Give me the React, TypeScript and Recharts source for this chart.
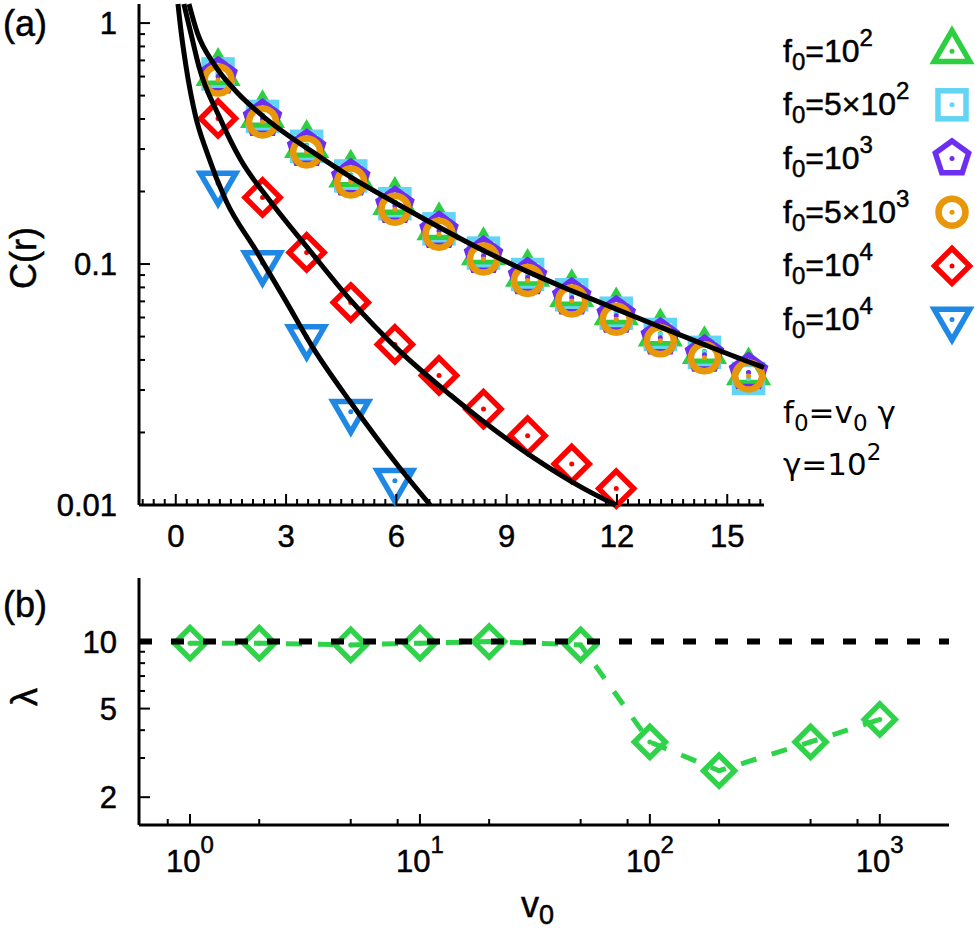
import React from "react";
import { ComposedChart, Line, Scatter, XAxis, YAxis, ReferenceLine } from "recharts";

const FONT = "'Liberation Sans', Arial, Helvetica, sans-serif";
const FONT_NOTE = "'DejaVu Sans', sans-serif";

// ---- panel (a): C(r) vs r ----
const R_PTS = [1.15, 2.36, 3.56, 4.76, 5.96, 7.16, 8.37, 9.57, 10.77, 11.98, 13.18, 14.38, 15.58];
const C_F1E2 = [0.62, 0.415, 0.312, 0.235, 0.181, 0.142, 0.112, 0.091, 0.075, 0.063, 0.0515, 0.0435, 0.0355];
const C_F5E2 = [0.615, 0.41, 0.308, 0.232, 0.178, 0.14, 0.111, 0.0905, 0.0745, 0.0625, 0.051, 0.043, 0.0335];
const C_F1E3 = [0.6, 0.4, 0.3, 0.226, 0.174, 0.137, 0.108, 0.088, 0.0725, 0.061, 0.0495, 0.042, 0.0355];
const C_F5E3 = [0.58, 0.389, 0.292, 0.219, 0.169, 0.133, 0.105, 0.0855, 0.0703, 0.059, 0.048, 0.0408, 0.0343];
const C_F1E4 = [0.402, 0.189, 0.1117, 0.0692, 0.0464, 0.0345, 0.025, 0.0194, 0.0148, 0.0117];
const C_F1E4B = [0.216, 0.101, 0.0498, 0.0244, 0.0126];

// fitted curves
const FIT1_R = [0.36, 0.59, 1.04, 1.65, 2.36, 3.82, 4.73, 6.1, 8.37, 9.57, 10.77, 11.98, 13.18, 14.38, 15.58, 16];
const FIT1_C = [1.2, 0.908, 0.676, 0.519, 0.412, 0.285, 0.231, 0.175, 0.1138, 0.093, 0.0775, 0.065, 0.0548, 0.0463, 0.0393, 0.0372];
const FIT2_R = [0.22, 0.41, 0.63, 1.18, 1.77, 2.55, 3.64, 4.73, 6.1, 7.47, 8.37, 9.74, 11.1, 11.97];
const FIT2_C = [1.2, 0.908, 0.66, 0.41, 0.27, 0.184, 0.114, 0.0715, 0.0434, 0.0286, 0.0222, 0.0157, 0.0117, 0.01];
const FIT3_R = [0.06, 0.15, 0.28, 0.54, 0.85, 1.36, 2.18, 3.0, 3.73, 4.73, 6.1, 6.92];
const FIT3_C = [1.2, 0.908, 0.66, 0.41, 0.29, 0.184, 0.114, 0.07, 0.045, 0.027, 0.0142, 0.01];

// ---- panel (b): lambda vs v0 ----
const V0 = [1, 2, 5, 10, 20, 50, 100, 200, 500, 1000];
const LAMBDA = [9.84, 9.84, 9.66, 9.84, 10.0, 9.66, 3.54, 2.63, 3.54, 4.47];
const LAMBDA_REF = 10;

// ticks
const A_X_MAJOR = [0, 3, 6, 9, 12, 15];
const A_X_TICKS = Array.from({ length: 57 }, (_, i) => Math.round((i - 3) * 3) / 10);
const A_Y_MAJOR = [0.01, 0.1, 1];
const A_Y_TICKS = [0.01, 0.02, 0.03, 0.04, 0.05, 0.06, 0.07, 0.08, 0.09, 0.1, 0.2, 0.3, 0.4, 0.5, 0.6, 0.7, 0.8, 0.9, 1];
const B_X_MAJOR = [1, 10, 100, 1000];
const B_X_TICKS = [0.8, 1, 2, 5, 8, 10, 20, 50, 80, 100, 200, 500, 800, 1000];
const B_Y_MAJOR = [2, 5, 10];
const B_Y_TICKS = [2, 3, 4, 5, 6, 7, 8, 9, 10];

const GREEN = "#2bcf3f";
const CYAN = "#62d4f4";
const PURPLE = "#6c2ef0";
const ORANGE = "#e8970a";
const RED = "#ff0000";
const BLUE = "#1f88e5";
const GREEN_B = "#2fd34a";

const SERIES = [
  { ys: C_F1E2, xs: R_PTS, color: GREEN, kind: "up", mant: "10", exp: "2" },
  { ys: C_F5E2, xs: R_PTS, color: CYAN, kind: "square", mant: "5×10", exp: "2" },
  { ys: C_F1E3, xs: R_PTS, color: PURPLE, kind: "pent", mant: "10", exp: "3" },
  { ys: C_F5E3, xs: R_PTS, color: ORANGE, kind: "circle", mant: "5×10", exp: "3" },
  { ys: C_F1E4, xs: R_PTS, color: RED, kind: "diamond", mant: "10", exp: "4" },
  { ys: C_F1E4B, xs: R_PTS, color: BLUE, kind: "down", mant: "10", exp: "4" },
];

const pts = (xs: number[], ys: number[]) => ys.map((c, i) => ({ x: xs[i], c }));
const isIn = (arr: number[], v: number) => arr.some((m) => Math.abs(m - v) < 1e-9);

function poly(list: number[][], cx: number, cy: number, s: number) {
  return list.map(([dx, dy]) => `${cx + dx * s},${cy + dy * s}`).join(" ");
}

function Marker({ kind, color, cx, cy, s = 1 }: any) {
  if (cx == null || cy == null) return null;
  const common = { fill: "none", stroke: color, strokeWidth: 5.5, strokeLinejoin: "miter" as const };
  let shape: any = null;
  if (kind === "up") shape = <polygon points={poly([[0, -20.5], [-17.8, 10.2], [17.8, 10.2]], cx, cy, s)} {...common} />;
  if (kind === "down") shape = <polygon points={poly([[0, 20.5], [-17.8, -10.2], [17.8, -10.2]], cx, cy, s)} {...common} />;
  if (kind === "square") shape = <rect x={cx - 14 * s} y={cy - 14 * s} width={28 * s} height={28 * s} {...common} />;
  if (kind === "diamond") shape = <polygon points={poly([[0, -17.5], [17.5, 0], [0, 17.5], [-17.5, 0]], cx, cy, s)} {...common} />;
  if (kind === "circle") shape = <circle cx={cx} cy={cy} r={13.5 * s} {...common} strokeWidth={6.5} />;
  if (kind === "pent") {
    const p = [0, 1, 2, 3, 4].map((k) => {
      const a = (-90 + 72 * k) * (Math.PI / 180);
      return [17.5 * Math.cos(a), 17.5 * Math.sin(a)];
    });
    shape = <polygon points={poly(p, cx, cy, s)} {...common} />;
  }
  return (
    <g>
      {shape}
      <circle cx={cx} cy={cy} r={2.5} fill={color} />
    </g>
  );
}

const tickStroke = { stroke: "#000", strokeWidth: 2 };
const txt = { fontFamily: FONT, fill: "#000", stroke: "#000", strokeWidth: 0.5 };

function ATickBottom({ x, y, payload }: any) {
  const major = isIn(A_X_MAJOR, payload.value);
  return (
    <g>
      <line x1={x} x2={x} y1={y} y2={y - (major ? 11 : 6)} {...tickStroke} />
      {major && (
        <text x={x} y={y + 42} textAnchor="middle" fontSize={31} {...txt}>
          {payload.value}
        </text>
      )}
    </g>
  );
}

function ATickTop({ x, y, payload }: any) {
  const major = isIn(A_X_MAJOR, payload.value);
  return <line x1={x} x2={x} y1={y} y2={y + (major ? 11 : 6)} {...tickStroke} />;
}

function ATickLeft({ x, y, payload }: any) {
  const major = isIn(A_Y_MAJOR, payload.value);
  return (
    <g>
      <line x1={x} x2={x + (major ? 11 : 6)} y1={y} y2={y} {...tickStroke} />
      {major && (
        <text x={x - 22} y={y + 11} textAnchor="end" fontSize={31} {...txt}>
          {String(payload.value)}
        </text>
      )}
    </g>
  );
}

function ATickRight({ x, y, payload }: any) {
  const major = isIn(A_Y_MAJOR, payload.value);
  return <line x1={x} x2={x - (major ? 11 : 6)} y1={y} y2={y} {...tickStroke} />;
}

function BTickBottom({ x, y, payload }: any) {
  const major = isIn(B_X_MAJOR, payload.value);
  return (
    <g>
      <line x1={x} x2={x} y1={y} y2={y - (major ? 11 : 6)} {...tickStroke} />
      {major && (
        <text x={x} y={y + 47} textAnchor="middle" fontSize={31} {...txt}>
          <tspan>10</tspan>
          <tspan dy={-19} fontSize={24}>{Math.round(Math.log10(payload.value))}</tspan>
        </text>
      )}
    </g>
  );
}

function BTickTop({ x, y, payload }: any) {
  const major = isIn(B_X_MAJOR, payload.value);
  return <line x1={x} x2={x} y1={y} y2={y + (major ? 11 : 6)} {...tickStroke} />;
}

function BTickLeft({ x, y, payload }: any) {
  const major = isIn(B_Y_MAJOR, payload.value);
  return (
    <g>
      <line x1={x} x2={x + (major ? 11 : 6)} y1={y} y2={y} {...tickStroke} />
      {major && (
        <text x={x - 22} y={y + 11} textAnchor="end" fontSize={31} {...txt}>
          {String(payload.value)}
        </text>
      )}
    </g>
  );
}

function BTickRight({ x, y, payload }: any) {
  const major = isIn(B_Y_MAJOR, payload.value);
  return <line x1={x} x2={x - (major ? 11 : 6)} y1={y} y2={y} {...tickStroke} />;
}

const axisLine = { stroke: "#000", strokeWidth: 3 };

const LEGEND_BASE = [61.7, 115.3, 169, 222.7, 276.4, 330];

export default function App() {
  const lamData = V0.map((v, i) => ({ x: v, l: LAMBDA[i] }));
  return (
    <div style={{ position: "absolute", left: 0, top: 0, width: 975, height: 932, background: "#fff" }}>
      <div style={{ position: "absolute", left: 0, top: 0 }}>
        <ComposedChart width={975} height={560} margin={{ top: 4, right: 211, bottom: 5, left: 0 }}>
          <XAxis
            dataKey="x"
            type="number"
            domain={[-1, 16]}
            ticks={A_X_TICKS}
            interval={0}
            height={50}
            tickSize={0}
            tickMargin={0}
            tickLine={false}
            axisLine={axisLine}
            tick={(p: any) => <ATickBottom {...p} />}
          />
          <XAxis
            xAxisId="top"
            orientation="top"
            dataKey="x"
            type="number"
            domain={[-1, 16]}
            ticks={A_X_TICKS}
            interval={0}
            height={0}
            tickSize={0}
            tickMargin={0}
            tickLine={false}
            axisLine={axisLine}
            tick={(p: any) => <ATickTop {...p} />}
          />
          <YAxis
            type="number"
            scale="log"
            domain={[0.01, 1.2]}
            ticks={A_Y_TICKS}
            interval={0}
            width={139}
            tickSize={0}
            tickMargin={0}
            tickLine={false}
            axisLine={axisLine}
            tick={(p: any) => <ATickLeft {...p} />}
          />
          <YAxis
            yAxisId="right"
            orientation="right"
            type="number"
            scale="log"
            domain={[0.01, 1.2]}
            ticks={A_Y_TICKS}
            interval={0}
            width={0}
            tickSize={0}
            tickMargin={0}
            tickLine={false}
            axisLine={axisLine}
            tick={(p: any) => <ATickRight {...p} />}
          />
          {SERIES.map((s, i) => (
            <Scatter
              key={i}
              data={pts(s.xs, s.ys)}
              dataKey="c"
              isAnimationActive={false}
              shape={(p: any) => <Marker kind={s.kind} color={s.color} cx={p.cx} cy={p.cy} />}
            />
          ))}
          {[
            [FIT1_R, FIT1_C],
            [FIT2_R, FIT2_C],
            [FIT3_R, FIT3_C],
          ].map(([xs, ys], i) => (
            <Line
              key={"fit" + i}
              data={pts(xs, ys)}
              dataKey="c"
              type="monotone"
              stroke="#000"
              strokeWidth={5}
              dot={false}
              activeDot={false}
              isAnimationActive={false}
              zIndex={700}
            />
          ))}
        </ComposedChart>
      </div>

      <div style={{ position: "absolute", left: 0, top: 540 }}>
        <ComposedChart width={975} height={392} margin={{ top: 38, right: 26, bottom: 47, left: 0 }}>
          <XAxis
            dataKey="x"
            type="number"
            scale="log"
            domain={[0.6, 2000]}
            ticks={B_X_TICKS}
            interval={0}
            height={60}
            tickSize={0}
            tickMargin={0}
            tickLine={false}
            axisLine={axisLine}
            tick={(p: any) => <BTickBottom {...p} />}
          />
          <XAxis
            xAxisId="top"
            orientation="top"
            dataKey="x"
            type="number"
            scale="log"
            domain={[0.6, 2000]}
            ticks={B_X_TICKS}
            interval={0}
            height={0}
            tickSize={0}
            tickMargin={0}
            tickLine={false}
            axisLine={axisLine}
            tick={(p: any) => <BTickTop {...p} />}
          />
          <YAxis
            type="number"
            scale="log"
            domain={[1.5, 19.3]}
            ticks={B_Y_TICKS}
            interval={0}
            width={139}
            tickSize={0}
            tickMargin={0}
            tickLine={false}
            axisLine={axisLine}
            tick={(p: any) => <BTickLeft {...p} />}
          />
          <YAxis
            yAxisId="right"
            orientation="right"
            type="number"
            scale="log"
            domain={[1.5, 19.3]}
            ticks={B_Y_TICKS}
            interval={0}
            width={0}
            tickSize={0}
            tickMargin={0}
            tickLine={false}
            axisLine={axisLine}
            tick={(p: any) => <BTickRight {...p} />}
          />
          <Line
            data={lamData}
            dataKey="l"
            type="linear"
            stroke={GREEN_B}
            strokeWidth={5}
            strokeDasharray="16 16"
            dot={(p: any) => (
              <g key={"d" + p.index}>
                <polygon
                  points={poly([[0, -15.5], [15.5, 0], [0, 15.5], [-15.5, 0]], p.cx, p.cy, 1)}
                  fill="none"
                  stroke={GREEN_B}
                  strokeWidth={5.5}
                />
                <circle cx={p.cx} cy={p.cy} r={2.5} fill={GREEN_B} />
              </g>
            )}
            activeDot={false}
            isAnimationActive={false}
          />
          <ReferenceLine y={LAMBDA_REF} stroke="#000" strokeWidth={6} strokeDasharray="13 19" zIndex={800} />
        </ComposedChart>
      </div>

      <svg width={975} height={932} style={{ position: "absolute", left: 0, top: 0, pointerEvents: "none" }}>
        <g {...txt}>
          <text x={3} y={36} fontSize={36}>(a)</text>
          <text transform="translate(36,258) rotate(-90)" textAnchor="middle" fontSize={36}>C(r)</text>
          <text x={3} y={617} fontSize={36}>(b)</text>
          <text transform="translate(37,697) rotate(-90)" textAnchor="middle" fontSize={36}>λ</text>
          <text x={521} y={917} fontSize={36}>
            <tspan>v</tspan>
            <tspan dy={7} fontSize={27}>0</tspan>
          </text>
          {SERIES.map((s, i) => (
            <text key={"lt" + i} x={783} y={LEGEND_BASE[i]} fontSize={32}>
              <tspan>f</tspan>
              <tspan dy={8} fontSize={24}>0</tspan>
              <tspan dy={-8}>{"=" + s.mant}</tspan>
              <tspan dy={-16} fontSize={24}>{s.exp}</tspan>
            </text>
          ))}
        </g>
        {SERIES.map((s, i) => (
          <Marker key={"lm" + i} kind={s.kind} color={s.color} cx={952} cy={LEGEND_BASE[i] - 10.5} />
        ))}
        <g fontFamily={FONT_NOTE} fill="#000" fontSize={31}>
          <text x={783} y={423}>
            <tspan>f</tspan>
            <tspan dy={8} fontSize={23}>0</tspan>
            <tspan dy={-8}>=v</tspan>
            <tspan dy={8} fontSize={23}>0</tspan>
            <tspan dy={-8}> γ</tspan>
          </text>
          <text x={783} y={475}>
            <tspan>γ=10</tspan>
            <tspan dy={-15} fontSize={23}>2</tspan>
          </text>
        </g>
      </svg>
    </div>
  );
}
